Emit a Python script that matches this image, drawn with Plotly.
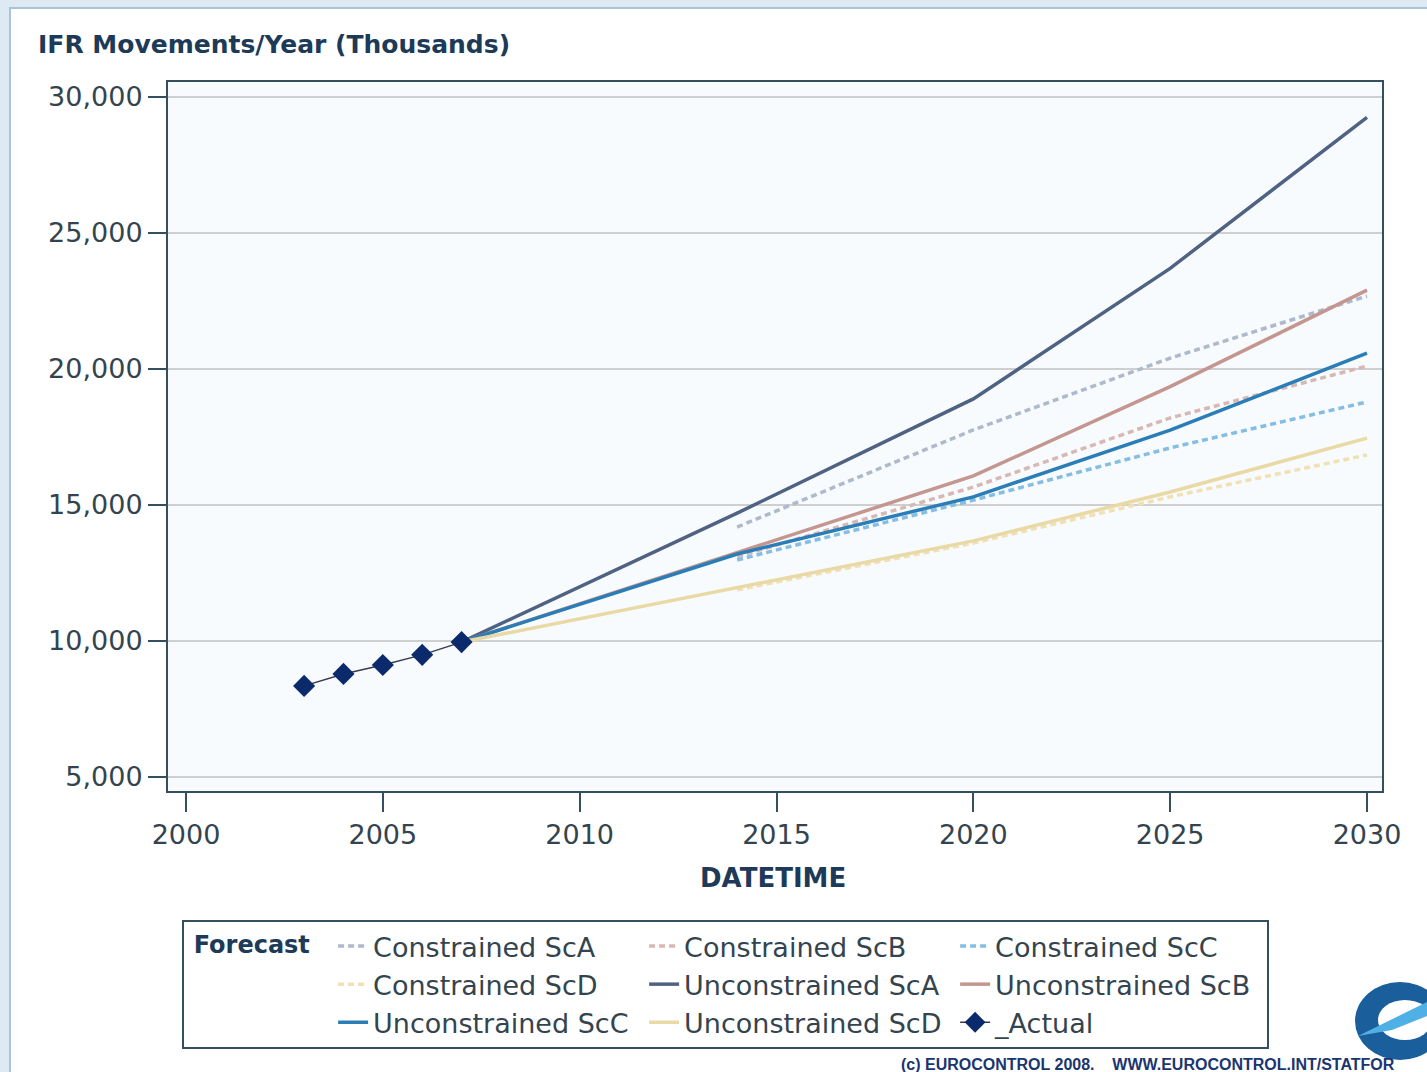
import plotly.graph_objects as go

# ---------------- data ----------------
actual_years = [2003, 2004, 2005, 2006, 2007]
actual_values = [8350, 8790, 9120, 9490, 9960]

unc_years = [2007, 2014, 2020, 2025, 2030]
unc_sca = [9960, 14700, 18900, 23700, 29250]
unc_scb = [9960, 13250, 16070, 19350, 22900]
unc_scc = [9960, 13200, 15300, 17750, 20580]
unc_scd = [9960, 11980, 13680, 15480, 17460]

con_years = [2014, 2020, 2025, 2030]
con_sca = [14190, 17760, 20400, 22680]
con_scb = [13100, 15660, 18200, 20110]
con_scc = [12980, 15180, 17100, 18790]
con_scd = [11880, 13600, 15300, 16840]

y_ticks = [5000, 10000, 15000, 20000, 25000, 30000]
x_ticks = [2000, 2005, 2010, 2015, 2020, 2025, 2030]

FONT = "DejaVu Sans"
FRAME = "#34505e"
TXT = "#34444f"
TITLE_COL = "#1d3a58"

fig = go.Figure()

con_series = [
    ("Constrained ScA", con_sca, "#aeb9cb"),
    ("Constrained ScB", con_scb, "#d8b8b3"),
    ("Constrained ScC", con_scc, "#86bde3"),
    ("Constrained ScD", con_scd, "#efe0b6"),
]
unc_series = [
    ("Unconstrained ScA", unc_sca, "#4f6282"),
    ("Unconstrained ScB", unc_scb, "#c4968f"),
    ("Unconstrained ScC", unc_scc, "#2a7db6"),
    ("Unconstrained ScD", unc_scd, "#e9d9a4"),
]

rank = 1
for name, vals, col in con_series:
    fig.add_trace(go.Scatter(x=con_years, y=vals, mode="lines", name=name,
                             line=dict(color=col, width=3.5, dash="6px,4px"),
                             legendrank=rank))
    rank += 1
for name, vals, col in unc_series:
    fig.add_trace(go.Scatter(x=unc_years, y=vals, mode="lines", name=name,
                             line=dict(color=col, width=3.5),
                             legendrank=rank))
    rank += 1
fig.add_trace(go.Scatter(x=actual_years, y=actual_values, mode="lines+markers",
                         name="_Actual",
                         line=dict(color="#3a3a4a", width=1.5),
                         marker=dict(symbol="diamond", size=17, color="#0b2a6b"),
                         legendrank=rank))

# paper geometry helpers (plot area: x 168..1382, y 82..791)
L, R, T, B = 168, 1382, 82, 791
W, H = R - L, B - T
def px(x):
    return (x - L) / W
def py(y):
    return (B - y) / H

shapes = [
    dict(type="rect", xref="paper", yref="paper", layer="below",
         x0=px(10), x1=px(1450), y0=py(1100), y1=py(8),
         fillcolor="#ffffff", line=dict(color="#a9c3dd", width=2)),
    dict(type="rect", xref="paper", yref="paper", layer="below",
         x0=0, x1=1, y0=0, y1=1,
         fillcolor="#f7fbfd", line=dict(width=0)),
    # logo approximation: dark blue ring, white hole, light blue wing
    dict(type="circle", xref="paper", yref="paper", layer="above",
         x0=px(1355), x1=px(1445), y0=py(1060), y1=py(982),
         fillcolor="#1a5e9c", line=dict(width=0)),
    dict(type="circle", xref="paper", yref="paper", layer="above",
         x0=px(1378), x1=px(1432), y0=py(1040), y1=py(1000),
         fillcolor="#ffffff", line=dict(width=0)),
    dict(type="path", xref="paper", yref="paper", layer="above",
         path=f"M {px(1358)},{py(1036)} L {px(1427)},{py(1002)} L {px(1427)},{py(1016)} "
              f"L {px(1392)},{py(1030)} Z",
         fillcolor="#4fb0e6", line=dict(width=0)),
]

annotations = [
    dict(text="<b>IFR Movements/Year (Thousands)</b>", xref="paper", yref="paper",
         x=px(36), y=py(44), xanchor="left", yanchor="middle", showarrow=False,
         font=dict(family=FONT, size=25, color=TITLE_COL)),
    dict(text="<b>DATETIME</b>", xref="paper", yref="paper",
         x=px(773), y=py(878), xanchor="center", yanchor="middle", showarrow=False,
         font=dict(family=FONT, size=26, color=TITLE_COL)),
    dict(text="<b>(c) EUROCONTROL 2008.    WWW.EUROCONTROL.INT/STATFOR</b>",
         xref="paper", yref="paper", x=px(1397), y=py(1064), xanchor="right",
         yanchor="middle", showarrow=False,
         font=dict(family="Liberation Sans Narrow, Liberation Sans", size=16, color="#1b3570")),
]

fig.update_layout(
    width=1427, height=1072,
    margin=dict(l=L, r=1427 - R, t=T, b=1072 - B),
    paper_bgcolor="#dde9f3",
    plot_bgcolor="#f7fbfd",
    font=dict(family=FONT, size=25, color=TXT),
    shapes=shapes,
    annotations=annotations,
    showlegend=True,
    legend=dict(
        orientation="h", x=px(182), y=py(920), xanchor="left", yanchor="top",
        bgcolor="#ffffff", bordercolor=FRAME, borderwidth=2,
        entrywidth=266, entrywidthmode="pixels",
        title=dict(text=" <b>Forecast</b>  ", side="left",
                   font=dict(family=FONT, size=24, color=TITLE_COL)),
        font=dict(family=FONT, size=27, color=TXT),
        tracegroupgap=0, itemwidth=30,
    ),
    xaxis=dict(
        range=[2000 - 18 / 39.37, 2030 + 15 / 39.37],
        tickmode="array", tickvals=x_ticks, ticktext=[str(v) for v in x_ticks],
        ticks="outside", ticklen=19, tickwidth=2, tickcolor=FRAME,
        showgrid=False, zeroline=False,
        showline=True, linecolor=FRAME, linewidth=2, mirror=True,
        tickfont=dict(family=FONT, size=27, color=TXT),
    ),
    yaxis=dict(
        range=[5000 - 14 / 136 * 5000, 30000 + 15 / 136 * 5000],
        tickmode="array", tickvals=y_ticks, ticktext=[f"{v:,}" for v in y_ticks],
        ticks="outside", ticklen=18, tickwidth=2, tickcolor=FRAME,
        showgrid=True, gridcolor="#cfcfcf", gridwidth=1.5,
        zeroline=False,
        showline=True, linecolor=FRAME, linewidth=2, mirror=True,
        tickfont=dict(family=FONT, size=27, color=TXT),
    ),
)

fig.write_html("out.html",
               config={"displayModeBar": False},
               post_script="document.body.style.margin='0';document.body.style.overflow='hidden';")
